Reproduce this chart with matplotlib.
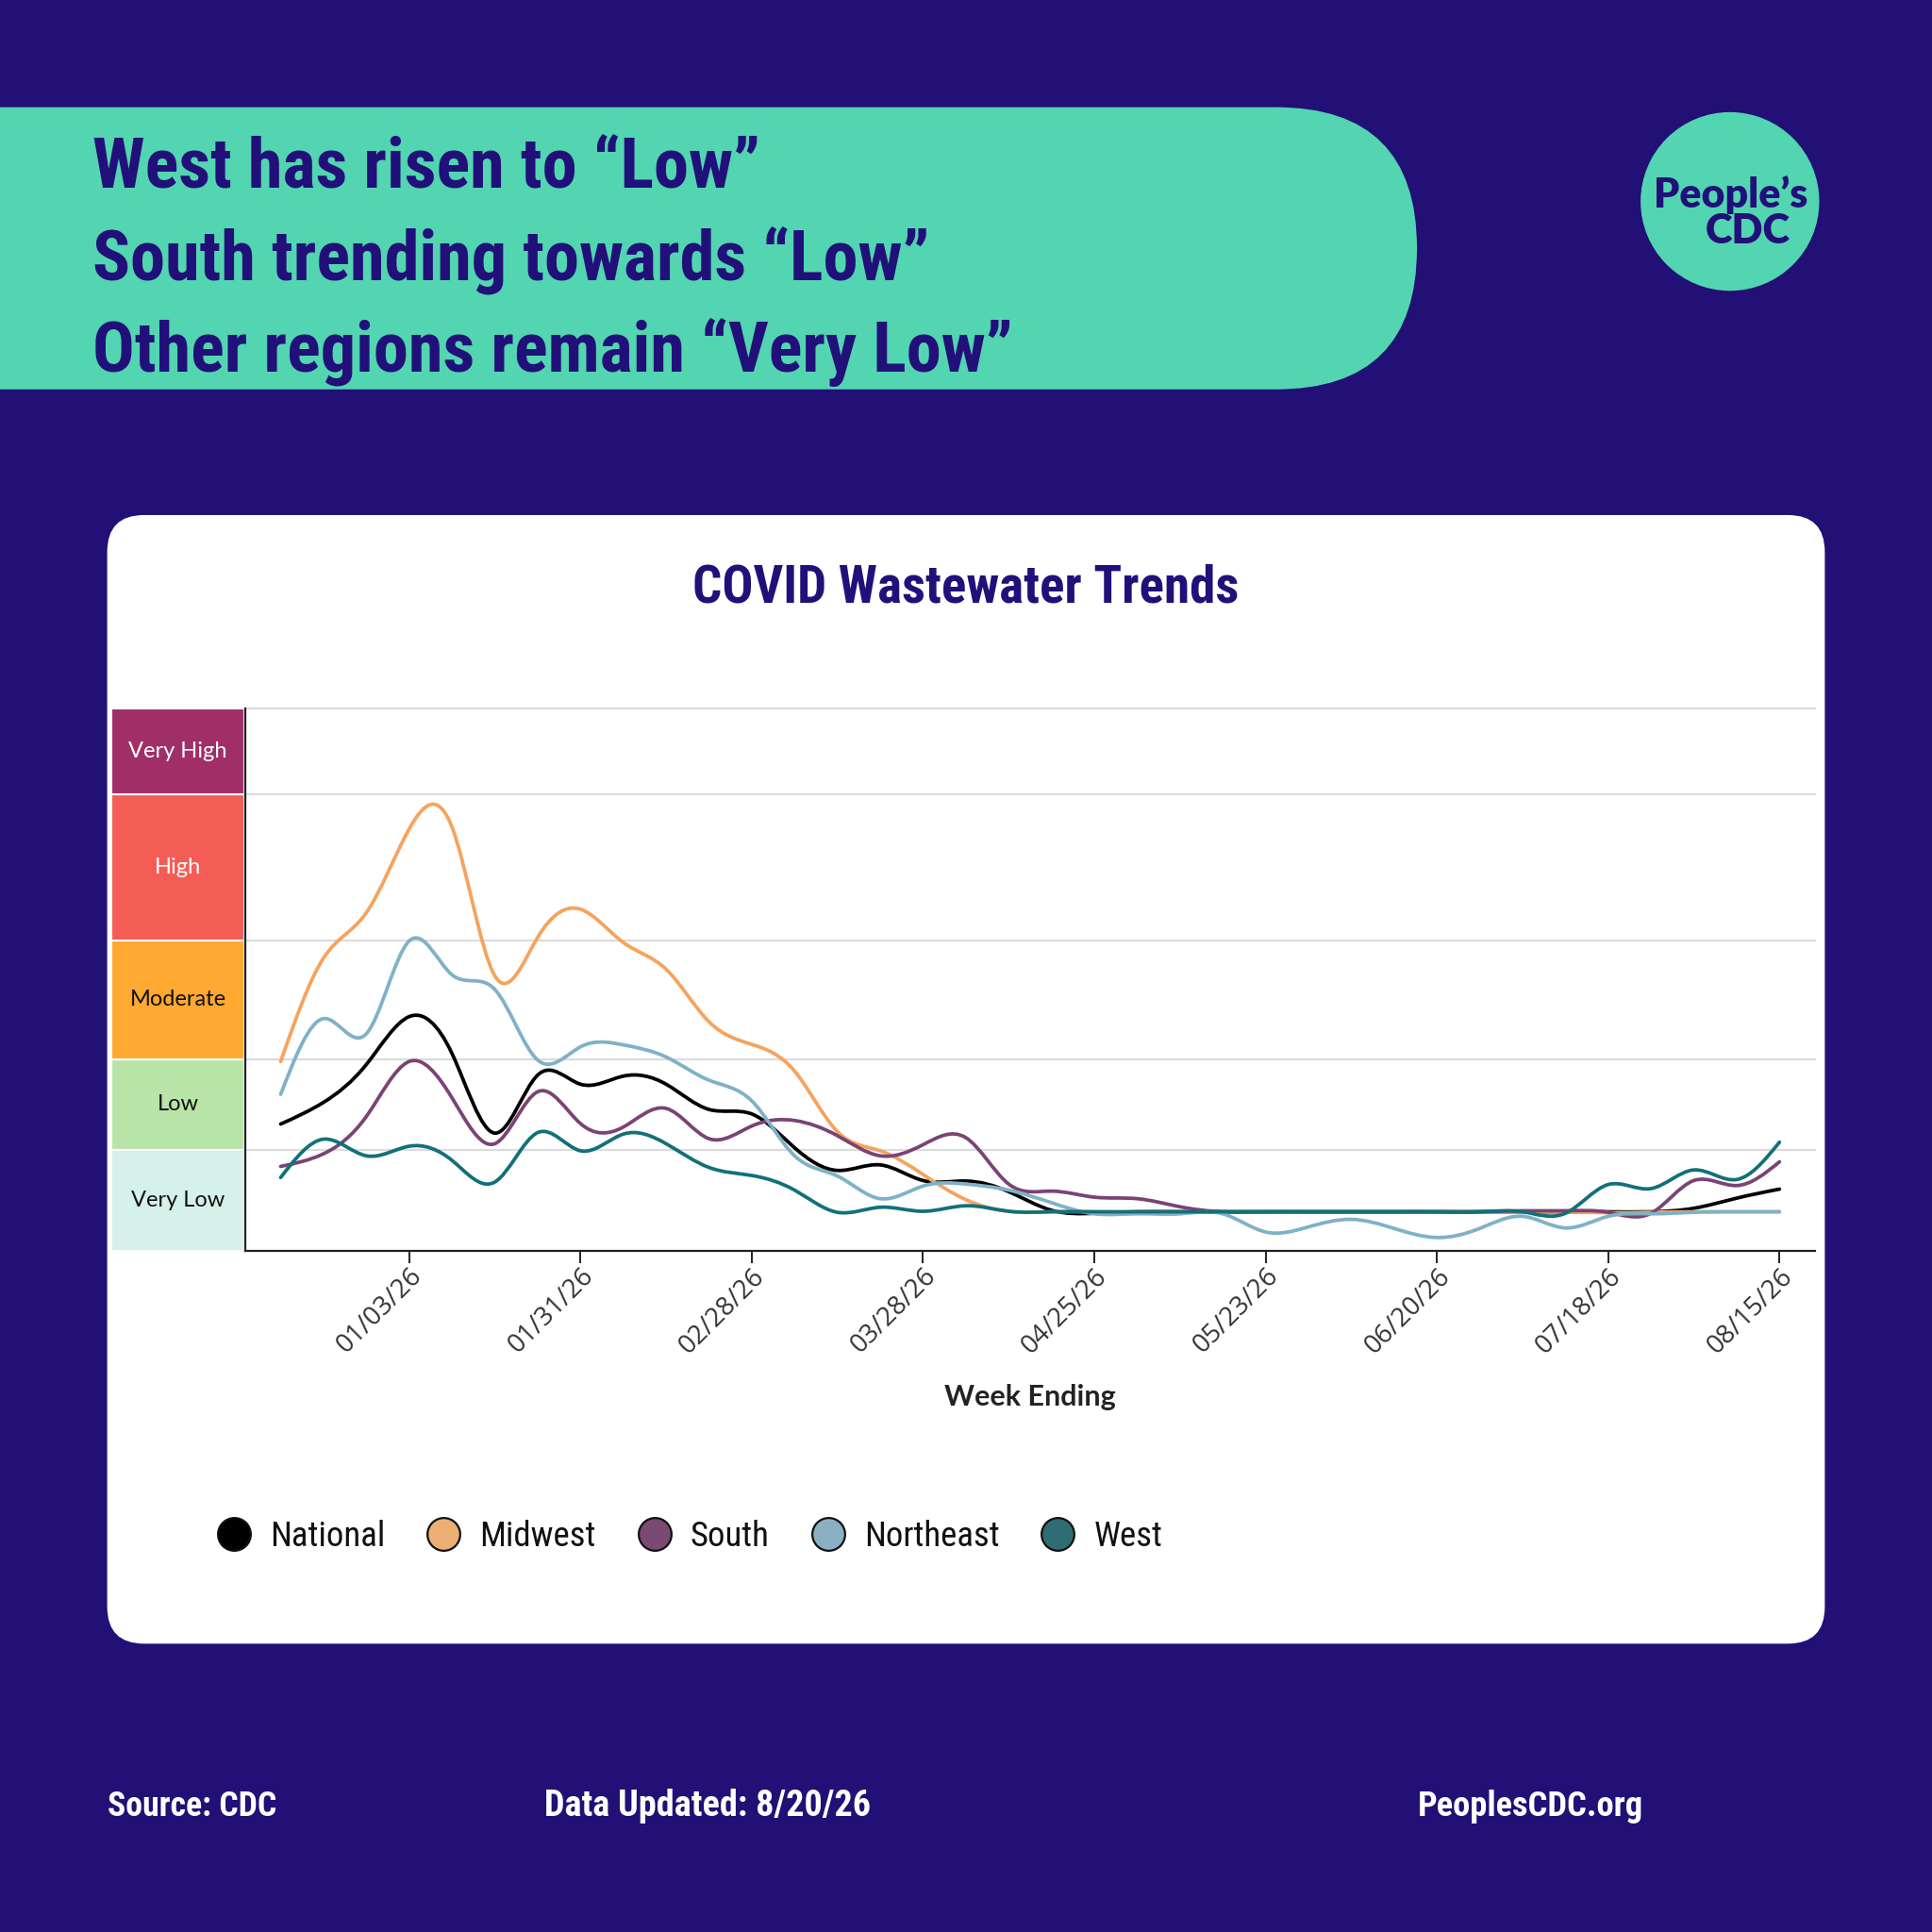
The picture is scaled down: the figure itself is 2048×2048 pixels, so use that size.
import numpy as np
import pandas as pd
import matplotlib
matplotlib.use("Agg")
import matplotlib.pyplot as plt
from matplotlib import font_manager as fm
from matplotlib.patches import FancyBboxPatch, Circle, Rectangle, PathPatch
from matplotlib.path import Path
from matplotlib.lines import Line2D
from matplotlib.transforms import blended_transform_factory

# ---- data (weekly wastewater viral activity) ----
weeks = pd.date_range("2025-12-13", periods=36, freq="7D")

national = [2.51, 2.94, 3.69, 4.64, 3.91, 2.33, 3.48, 3.30, 3.46, 3.30,
            2.80, 2.71, 2.04, 1.59, 1.70, 1.39, 1.38, 1.17, 0.80, 0.74,
            0.77, 0.77, 0.77, 0.77, 0.77, 0.77, 0.77, 0.77, 0.77, 0.77,
            0.77, 0.77, 0.77, 0.84, 1.04, 1.22]
midwest = [3.75, 5.80, 6.70, 8.36, 8.40, 5.45, 6.21, 6.77, 6.11, 5.58,
           4.54, 4.09, 3.56, 2.36, 1.98, 1.51, 1.01, 0.78, 0.77, 0.77,
           0.77, 0.77, 0.77, 0.77, 0.77, 0.77, 0.77, 0.77, 0.77, 0.77,
           0.77, 0.75, 0.76, 0.77, 0.77, 0.77]
south = [1.67, 1.92, 2.66, 3.75, 3.03, 2.12, 3.15, 2.52, 2.45, 2.82,
         2.22, 2.47, 2.58, 2.28, 1.88, 2.10, 2.24, 1.32, 1.18, 1.06,
         1.03, 0.87, 0.77, 0.77, 0.77, 0.77, 0.77, 0.77, 0.77, 0.79,
         0.79, 0.76, 0.74, 1.39, 1.29, 1.76]
northeast = [3.10, 4.60, 4.30, 6.14, 5.47, 5.18, 3.78, 4.04, 4.08, 3.84,
             3.38, 2.97, 1.88, 1.48, 1.03, 1.28, 1.32, 1.20, 0.95, 0.73,
             0.73, 0.73, 0.73, 0.37, 0.47, 0.62, 0.44, 0.26, 0.44, 0.68,
             0.45, 0.68, 0.73, 0.76, 0.77, 0.77]
west = [1.45, 2.21, 1.88, 2.07, 1.79, 1.36, 2.34, 1.98, 2.31, 2.12,
        1.65, 1.49, 1.20, 0.76, 0.86, 0.78, 0.89, 0.78, 0.77, 0.77,
        0.77, 0.77, 0.77, 0.77, 0.77, 0.77, 0.77, 0.77, 0.77, 0.77,
        0.74, 1.31, 1.23, 1.60, 1.41, 2.15]

series_names = ["National", "Midwest", "South", "Northeast", "West"]
line_colors = ["#000000", "#F5A35E", "#7B4375", "#7FB1C7", "#137079"]
legend_colors = ["#000000", "#EDAE73", "#7B4A72", "#8BB0C4", "#2F6D75"]

level_edges = [0, 2.0, 3.8, 6.15, 9.05, 10.75]
level_names = ["Very Low", "Low", "Moderate", "High", "Very High"]
level_colors = ["#D6F1EA", "#B8E4A8", "#FFA832", "#F45D55", "#A02F68"]
level_text = ["#111111", "#111111", "#111111", "#FFFFFF", "#FFFFFF"]

headline = ["West has risen to \u201cLow\u201d",
            "South trending towards \u201cLow\u201d",
            "Other regions remain \u201cVery Low\u201d"]

BG = "#221076"
TEAL = "#52D5B0"
INK = "#22107A"

# ---- fonts ----
names = {f.name for f in fm.fontManager.ttflist}


def pick(*cands):
    for c in cands:
        if c in names:
            return c
    return "DejaVu Sans"


COND = pick("Liberation Sans Narrow", "Roboto Condensed", "Open Sans Condensed", "Liberation Sans")
BODY = pick("Lato", "Open Sans", "DejaVu Sans")
TICKF = pick("Open Sans", "Noto Sans", "DejaVu Sans")

S = 2048 / 1568  # reference px -> output px

fig = plt.figure(figsize=(20.48, 20.48), dpi=100, facecolor=BG)
rend = fig.canvas.get_renderer()


def fit(t, w):
    bb = t.get_window_extent(renderer=rend)
    t.set_fontsize(t.get_fontsize() * w * S / bb.width)
    return t.get_fontsize()


# background layer in reference pixel units
bg = fig.add_axes([0, 0, 1, 1])
bg.set_xlim(0, 1568)
bg.set_ylim(1568, 0)
bg.axis("off")

bg.add_patch(FancyBboxPatch((-300, 87), 1450, 229, boxstyle="round,pad=0,rounding_size=114.5",
                            fc=TEAL, ec="none"))
bg.add_patch(Circle((1404, 163.5), 72.5, fc=TEAL, ec="none"))
bg.add_patch(FancyBboxPatch((87, 418), 1394, 916, boxstyle="round,pad=0,rounding_size=30",
                            fc="white", ec="none"))

# headline
hl = []
for txt, yb in zip(headline, [153, 228, 302]):
    hl.append(bg.text(75, yb, txt, color=INK, family=COND, weight="bold", fontsize=60,
                      ha="left", va="baseline"))
sizes = [fit(t, w) for t, w in zip(hl, [531, 688, 755])]
for t in hl:
    t.set_fontsize(np.mean(sizes))

# logo
t = bg.text(1405, 168.5, "People\u2019s", color=INK, family=BODY, weight="heavy", fontsize=28,
            ha="center", va="baseline")
fit(t, 125)
t = bg.text(1418.5, 197.5, "CDC", color=INK, family=BODY, weight="heavy", fontsize=28,
            ha="center", va="baseline")
fit(t, 69)

# chart title
t = bg.text(784, 489, "COVID Wastewater Trends", color=INK, family=COND, weight="bold",
            fontsize=44, ha="center", va="baseline")
fit(t, 443)

# footer
for txt, x0, w in [("Source: CDC", 87, 137), ("Data Updated: 8/20/26", 442, 264),
                   ("PeoplesCDC.org", 1151, 183)]:
    t = bg.text(x0, 1474, txt, color="white", family=COND, weight="bold", fontsize=28,
                ha="left", va="baseline")
    fit(t, w)

# ---- chart ----
ax = fig.add_axes([199 / 1568, 1 - 1015 / 1568, (1473 - 199) / 1568, (1015 - 575) / 1568])
ax.set_facecolor("none")
x = weeks.to_julian_date().values - weeks.to_julian_date().values[0]
ax.set_xlim(x[0] - 5.8, x[-1] + 5.8)
ax.set_ylim(level_edges[0], level_edges[-1])

band_tr = blended_transform_factory(ax.transAxes, ax.transData)
for lo, hi, name, col, tc in zip(level_edges[:-1], level_edges[1:], level_names,
                                 level_colors, level_text):
    ax.add_patch(Rectangle((-0.0855, lo), 0.0847, hi - lo, transform=band_tr, clip_on=False,
                           fc=col, ec="white", lw=1.5, zorder=1))
    ax.text(-0.0428, (lo + hi) / 2, name, transform=band_tr, ha="center", va="center",
            color=tc, family=BODY, fontsize=17, clip_on=False)

for e in level_edges[1:]:
    ax.axhline(e, color="#DCDCDC", lw=1.6, zorder=0, clip_on=False)


def natural_ctrl(v):
    # control points of a natural cubic spline through v (one coordinate)
    v = np.asarray(v, float)
    n = len(v) - 1
    a = np.zeros(n)
    b = np.zeros(n)
    r = np.zeros(n)
    a[0], b[0], r[0] = 0, 2, v[0] + 2 * v[1]
    for i in range(1, n - 1):
        a[i], b[i], r[i] = 1, 4, 4 * v[i] + 2 * v[i + 1]
    a[n - 1], b[n - 1], r[n - 1] = 2, 7, 8 * v[n - 1] + v[n]
    for i in range(1, n):
        m = a[i] / b[i - 1]
        b[i] -= m
        r[i] -= m * r[i - 1]
    a[n - 1] = r[n - 1] / b[n - 1]
    for i in range(n - 2, -1, -1):
        a[i] = (r[i] - a[i + 1]) / b[i]
    b[n - 1] = (v[n] + a[n - 1]) / 2
    for i in range(n - 1):
        b[i] = 2 * v[i + 1] - a[i + 1]
    return a, b


def smooth_path(xs, ys):
    ax1, bx1 = natural_ctrl(xs)
    ay1, by1 = natural_ctrl(ys)
    verts = [(xs[0], ys[0])]
    codes = [Path.MOVETO]
    for i in range(len(xs) - 1):
        verts += [(ax1[i], ay1[i]), (bx1[i], by1[i]), (xs[i + 1], ys[i + 1])]
        codes += [Path.CURVE4] * 3
    return Path(verts, codes)


for vals, col in zip([national, midwest, south, northeast, west], line_colors):
    ax.add_patch(PathPatch(smooth_path(x, vals), fill=False, ec=col, lw=2.7,
                           capstyle="round", joinstyle="round", zorder=3))

for side in ["top", "right"]:
    ax.spines[side].set_visible(False)
for side in ["left", "bottom"]:
    ax.spines[side].set_color("#222222")
    ax.spines[side].set_linewidth(1.6)
ax.set_yticks([])
ax.set_xticks(x[3::4])
ax.set_xticklabels([d.strftime("%m/%d/%y") for d in weeks[3::4]])
ax.tick_params(axis="x", length=9, width=1.4, colors="#222222", labelsize=20, pad=0.5)
for lbl in ax.get_xticklabels():
    lbl.set_rotation(45)
    lbl.set_ha("right")
    lbl.set_va("top")
    lbl.set_rotation_mode("anchor")
    lbl.set_family(TICKF)
    lbl.set_color("#333333")

ax.set_xlabel("Week Ending", family=BODY, weight="bold", fontsize=22, color="#222222")
ax.xaxis.set_label_coords(0.5, -0.245)

handles = [Line2D([], [], ls="none", marker="o", ms=25, mfc=c, mec="#111111", mew=1.6)
           for c in legend_colors]
fig.legend(handles, series_names, loc="center left", bbox_to_anchor=(176 / 1568, 1 - 1247 / 1568),
           ncol=5, frameon=False, handlelength=0.96, handletextpad=0.56, columnspacing=1.2,
           borderpad=0, borderaxespad=0, prop=dict(family=COND, size=26.5), labelcolor="#111111")

fig.savefig("out.png", dpi=100, facecolor=BG)
